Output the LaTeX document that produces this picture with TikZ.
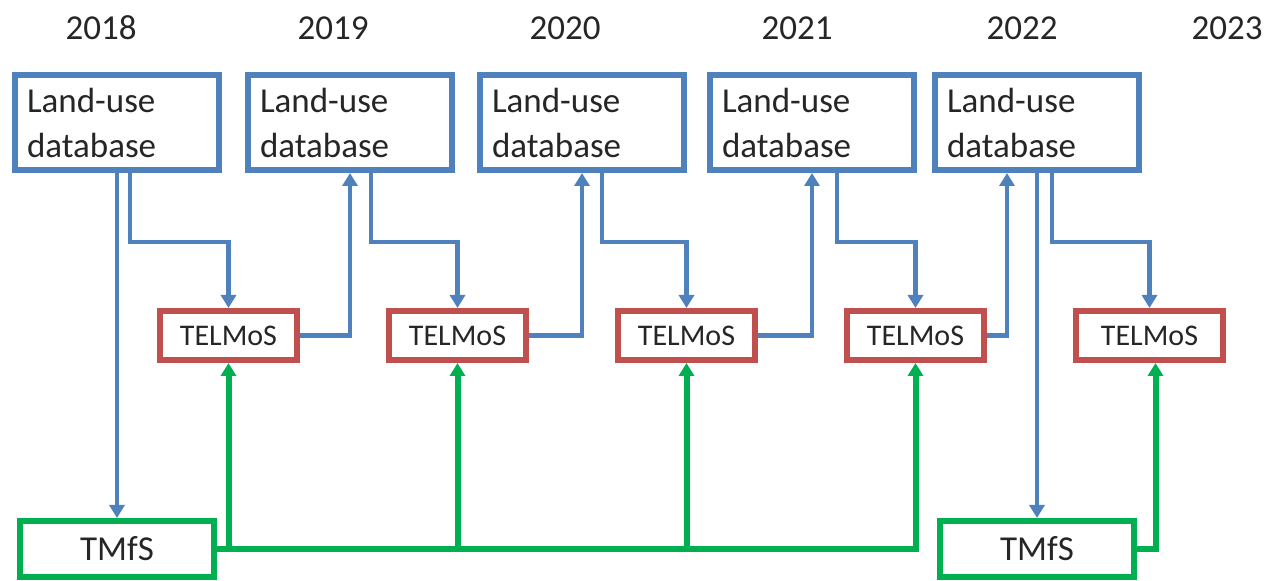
\documentclass[tikz,border=0pt]{standalone}
\usepackage{fontspec}
\setmainfont{Carlito}
\usepackage{xcolor}
\usepackage{tikz}
\usetikzlibrary{arrows.meta,positioning}
\definecolor{landblue}{HTML}{4F81BD}
\definecolor{telred}{HTML}{C0504D}
\definecolor{tmgreen}{HTML}{00B050}
\definecolor{ink}{HTML}{262626}

\begin{document}
\begin{tikzpicture}[x=0.5pt, y=-0.5pt, every node/.style={text=ink, font=\fontsize{17.5}{22.5}\selectfont}, lubox/.style={draw=landblue,line width=3pt,text width=90pt,inner xsep=6pt,minimum height=47.5pt,align=left}, telbox/.style={draw=telred,line width=3pt,minimum width=68.5pt,minimum height=24.5pt,font=\fontsize{15}{18}\selectfont}, tmbox/.style={draw=tmgreen,line width=3pt,minimum width=97pt,minimum height=28pt}, yr/.style={inner sep=0pt}, barr/.style={-{Triangle[length=6.5pt,width=7.5pt]},line width=2.4pt,draw=landblue}, garr/.style={-{Triangle[length=6.5pt,width=7.5pt]},line width=3pt,draw=tmgreen}]
\useasboundingbox (0,0) rectangle (1272,581);
% years
\node[yr] (y18) at (101,28) {2018};
\node[yr] (y19) at (333,28) {2019};
\node[yr] (y20) at (565,28) {2020};
\node[yr] (y21) at (797,28) {2021};
\node[yr] (y22) at (1022,28) {2022};
\node[yr] (y23) at (1227,28) {2023};
% land-use databases
\node[lubox] (lu1) at (117,122.5) {Land-use\\database};
\node[lubox,right=11.5pt of lu1] (lu2) {Land-use\\database};
\node[lubox,right=11pt of lu2] (lu3) {Land-use\\database};
\node[lubox,right=10pt of lu3] (lu4) {Land-use\\database};
\node[lubox,right=7.5pt of lu4] (lu5) {Land-use\\database};
% TELMoS runs
\node[telbox] (te1) at (228.5,335.5) {TELMoS};
\node[telbox,right=43pt of te1] (te2) {TELMoS};
\node[telbox,right=43pt of te2] (te3) {TELMoS};
\node[telbox,right=43pt of te3] (te4) {TELMoS};
\node[telbox,right=43pt of te4,minimum width=73.5pt] (te5) {TELMoS};
% TMfS runs
\node[tmbox,below=172.5pt of lu1] (tm1) {TMfS};
\node[tmbox,below=172.5pt of lu5] (tm2) {TMfS};
% land-use flow
\draw[barr] (lu1.south) -- (tm1.north);
\draw[barr] ([xshift=6.5pt]lu1.south) -- ++(0,69) -| (te1.north);
\draw[barr] (te1.east) -| (lu2.south);
\draw[barr] ([xshift=10.5pt]lu2.south) -- ++(0,69) -| (te2.north);
\draw[barr] (te2.east) -| (lu3.south);
\draw[barr] ([xshift=10pt]lu3.south) -- ++(0,69) -| (te3.north);
\draw[barr] (te3.east) -| (lu4.south);
\draw[barr] ([xshift=12.5pt]lu4.south) -- ++(0,69) -| (te4.north);
\draw[barr] (te4.east) -| ([xshift=-15pt]lu5.south);
\draw[barr] (lu5.south) -- (tm2.north);
\draw[barr] ([xshift=7.5pt]lu5.south) -- ++(0,69) -| (te5.north);
% transport model feedback
\draw[garr] (tm1.east) -| (te4.south);
\draw[garr] (te1.south |- tm1.east) -- (te1.south);
\draw[garr] (te2.south |- tm1.east) -- (te2.south);
\draw[garr] (te3.south |- tm1.east) -- (te3.south);
\draw[garr] (tm2.east) -| ([xshift=3pt]te5.south);
\end{tikzpicture}
\end{document}
